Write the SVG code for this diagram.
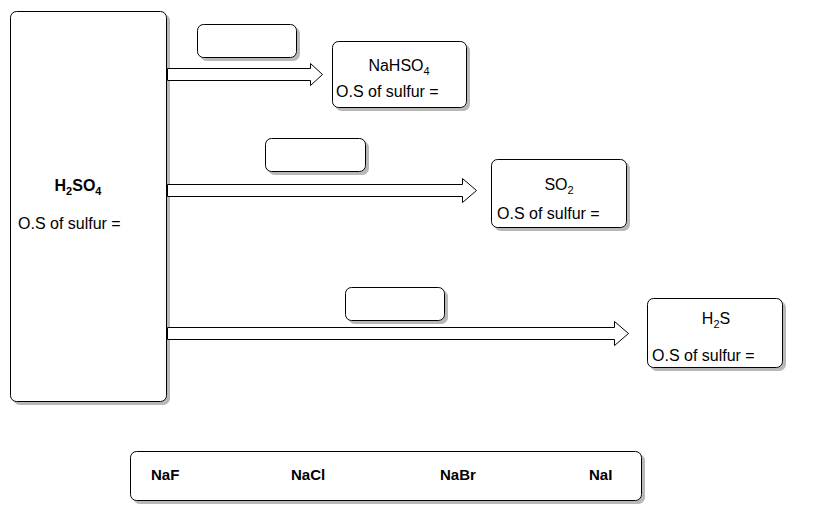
<svg xmlns="http://www.w3.org/2000/svg" width="817" height="516" viewBox="0 0 817 516">
<style>
.box{fill:#fff;stroke:#000;stroke-width:1;filter:url(#sh)}
.arr{fill:#fff;stroke:#000;stroke-width:1}
text{font-family:"Liberation Sans",Arial,sans-serif;fill:#000}
.t{font-size:16px}
.b{font-size:16px;font-weight:bold}
.bb{font-size:15px;font-weight:bold}
</style>
<defs>
<filter id="sh" x="-10%" y="-10%" width="130%" height="130%">
<feDropShadow dx="3" dy="3" stdDeviation="0.6" flood-color="#707070" flood-opacity="0.5"/>
</filter>
</defs>
<rect width="817" height="516" fill="#fff"/>
<g id="h2so4">
<rect class="box" x="10.5" y="11.5" width="156" height="390" rx="6"/>
<text class="b" x="78" y="191" text-anchor="middle">H<tspan font-size="11" dy="4">2</tspan><tspan dy="-4">SO</tspan><tspan font-size="11" dy="4">4</tspan></text>
<text class="t" x="18" y="229">O.S of sulfur =</text>
</g>
<g id="connectors">
<polygon class="arr" points="167.5,68.5 310.5,68.5 310.5,63.5 322.5,74.5 310.5,85.5 310.5,80.5 167.5,80.5"/>
<polygon class="arr" points="167.5,184.5 462.5,184.5 462.5,178.5 476.5,190.5 462.5,202.5 462.5,196.5 167.5,196.5"/>
<polygon class="arr" points="167.5,327.5 614.5,327.5 614.5,321.5 628.5,333.5 614.5,345.5 614.5,339.5 167.5,339.5"/>
</g>
<g id="label1"><rect class="box" x="197.5" y="24.5" width="99" height="33" rx="6"/></g>
<g id="label2"><rect class="box" x="265.5" y="138.5" width="100" height="33" rx="6"/></g>
<g id="label3"><rect class="box" x="345.5" y="287.5" width="99" height="33" rx="6"/></g>
<g id="nahso4">
<rect class="box" x="332.5" y="41.5" width="134" height="66" rx="6"/>
<text class="t" x="399" y="71" text-anchor="middle">NaHSO<tspan font-size="11" dy="4">4</tspan></text>
<text class="t" x="336" y="97">O.S of sulfur =</text>
</g>
<g id="so2">
<rect class="box" x="491.5" y="159.5" width="135" height="68" rx="6"/>
<text class="t" x="559" y="190" text-anchor="middle">SO<tspan font-size="11" dy="4">2</tspan></text>
<text class="t" x="497" y="219">O.S of sulfur =</text>
</g>
<g id="h2s">
<rect class="box" x="647.5" y="298.5" width="135" height="69" rx="6"/>
<text class="t" x="716" y="324" text-anchor="middle">H<tspan font-size="11" dy="4">2</tspan><tspan dy="-4">S</tspan></text>
<text class="t" x="652" y="361">O.S of sulfur =</text>
</g>
<g id="halides">
<rect class="box" x="130.5" y="451.5" width="511" height="49" rx="6"/>
<text class="bb" x="151" y="480">NaF</text>
<text class="bb" x="291" y="480">NaCl</text>
<text class="bb" x="440" y="480">NaBr</text>
<text class="bb" x="589" y="480">NaI</text>
</g>
</svg>
